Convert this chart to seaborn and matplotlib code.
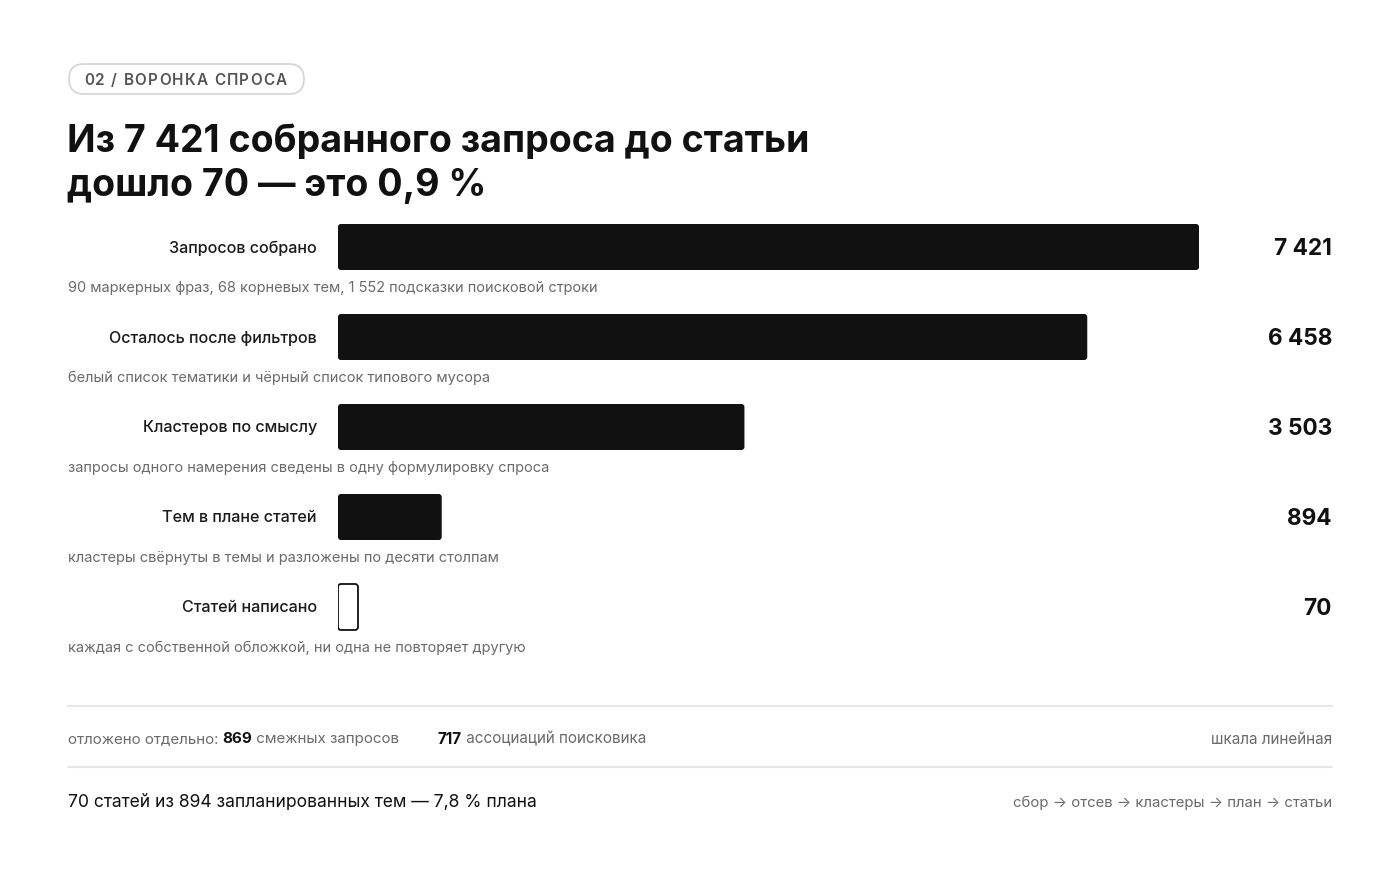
import matplotlib
matplotlib.use("Agg")
import matplotlib.pyplot as plt
from matplotlib.patches import FancyBboxPatch
import seaborn as sns
import pandas as pd

# funnel data
stages = ["Запросов собрано", "Осталось после фильтров", "Кластеров по смыслу",
          "Тем в плане статей", "Статей написано"]
counts = [7421, 6458, 3503, 894, 70]
value_labels = ["7 421", "6 458", "3 503", "894", "70"]
notes = ["90 маркерных фраз, 68 корневых тем, 1 552 подсказки поисковой строки",
         "белый список тематики и чёрный список типового мусора",
         "запросы одного намерения сведены в одну формулировку спроса",
         "кластеры свёрнуты в темы и разложены по десяти столпам",
         "каждая с собственной обложкой, ни одна не повторяет другую"]
set_aside = [869, 717]

W, H = 1400, 875
INK = "#111111"
GREY = "#6b6b6b"
FONT = ["Inter", "DejaVu Sans"]

sns.set_style("white")
plt.rcParams["font.family"] = FONT

fig = plt.figure(figsize=(W / 100, H / 100), dpi=100)
fig.patch.set_facecolor("white")
renderer = fig.canvas.get_renderer()

# overlay axes in pixel units for decorations
bg = fig.add_axes([0, 0, 1, 1])
bg.set_xlim(0, W)
bg.set_ylim(H, 0)
bg.axis("off")


def fx(x):
    return x / W


def fy(y):
    return 1 - y / H


def text_width(s, **kw):
    # measure with guards so leading / trailing spaces count
    t = fig.text(0, 0, "|" + s + "|", **kw)
    g = fig.text(0, 0, "||", **kw)
    w = t.get_window_extent(renderer).width - g.get_window_extent(renderer).width
    t.remove()
    g.remove()
    return w


def runs(x, y, parts, size, ha="left"):
    total = sum(text_width(s, fontsize=size, fontweight=wt) for s, c, wt in parts)
    cur = x - total if ha == "right" else x
    for s, c, wt in parts:
        fig.text(fx(cur), fy(y), s, fontsize=size, fontweight=wt, color=c,
                 va="center", ha="left")
        cur += text_width(s, fontsize=size, fontweight=wt)


# tag pill with letter spacing
tag = "02 / ВОРОНКА СПРОСА"
bg.add_patch(FancyBboxPatch((69, 64), 304 - 69, 94 - 64,
                            boxstyle="round,pad=0,rounding_size=15",
                            facecolor="white", edgecolor="#d4d4d4",
                            linewidth=1.2))
tag_kw = dict(fontsize=11, fontweight="semibold")
widths = [text_width(ch, **tag_kw) for ch in tag]
gap = (287 - 84 - sum(widths)) / (len(tag) - 1)
cx = 84
for ch, w in zip(tag, widths):
    fig.text(fx(cx), fy(80.5), ch, color="#555555", va="center", ha="left",
             **tag_kw)
    cx += w + gap

# title
fig.text(fx(67), fy(152), "Из 7 421 собранного запроса до статьи",
         fontsize=27, fontweight="bold", color=INK, va="baseline")
fig.text(fx(67), fy(196), "дошло 70 — это 0,9 %",
         fontsize=27, fontweight="bold", color=INK, va="baseline")

# bars
left, right = 338, 1199
top, bottom = 202, 652
ax = fig.add_axes([fx(left), fy(bottom), fx(right - left), (bottom - top) / H])
df = pd.DataFrame({"stage": stages, "count": counts})
# the smallest bar is kept visible with a minimum drawn width
min_w = 20 * max(counts) / (right - left)
df["drawn"] = df["count"].clip(lower=min_w)
sns.barplot(data=df, x="drawn", y="stage", orient="h", color=INK,
            width=46 / 90, ax=ax, saturation=1)
ax.set_xlim(0, max(counts))
ax.set_ylim(len(stages) - 0.5, -0.5)
ax.axis("off")

# swap seaborn's rectangles for slightly rounded ones of the same extent
xu = max(counts) / (right - left)
yu = len(stages) / (bottom - top)
for p, c in list(zip(ax.patches, counts)):
    hollow = c < min_w
    ax.add_patch(FancyBboxPatch((p.get_x(), p.get_y()), p.get_width(), p.get_height(),
                                boxstyle=f"round,pad=0,rounding_size={3 * xu}",
                                mutation_aspect=yu / xu,
                                facecolor="white" if hollow else INK,
                                edgecolor=INK, linewidth=1.3 if hollow else 0))
    p.set_visible(False)

for i, (st, val, note) in enumerate(zip(stages, value_labels, notes)):
    yc = 247 + 90 * i
    fig.text(fx(317), fy(yc + 1), st, fontsize=11.6, fontweight="medium",
             color="#1a1a1a", ha="right", va="center")
    fig.text(fx(1332), fy(yc + 2), val, fontsize=16.3, fontweight="bold",
             color=INK, ha="right", va="center")
    fig.text(fx(68), fy(yc + 41), note, fontsize=10.5, color=GREY,
             ha="left", va="center")

# separators
for yl in (706, 767):
    bg.plot([68, 1332], [yl, yl], color="#e6e6e6", linewidth=1.5)

runs(68, 739, [("отложено отдельно: ", GREY, "normal"),
               (str(set_aside[0]), INK, "bold"),
               (" смежных запросов", GREY, "normal")], 10.9)
runs(438, 739, [(str(set_aside[1]), INK, "bold"),
                (" ассоциаций поисковика", GREY, "normal")], 11)
fig.text(fx(1332), fy(739), "шкала линейная", fontsize=11, color=GREY,
         ha="right", va="center")

share = counts[4] / counts[3] * 100
fig.text(fx(68), fy(803),
         f"{counts[4]} статей из {counts[3]} запланированных тем — "
         f"{share:.1f} % плана".replace(".", ","),
         fontsize=12.6, color=INK, ha="left", va="center")
fig.text(fx(1332), fy(803), "сбор → отсев → кластеры → план → статьи",
         fontsize=10.75, color=GREY, ha="right", va="center")

fig.savefig("out.png", dpi=100, facecolor="white")
